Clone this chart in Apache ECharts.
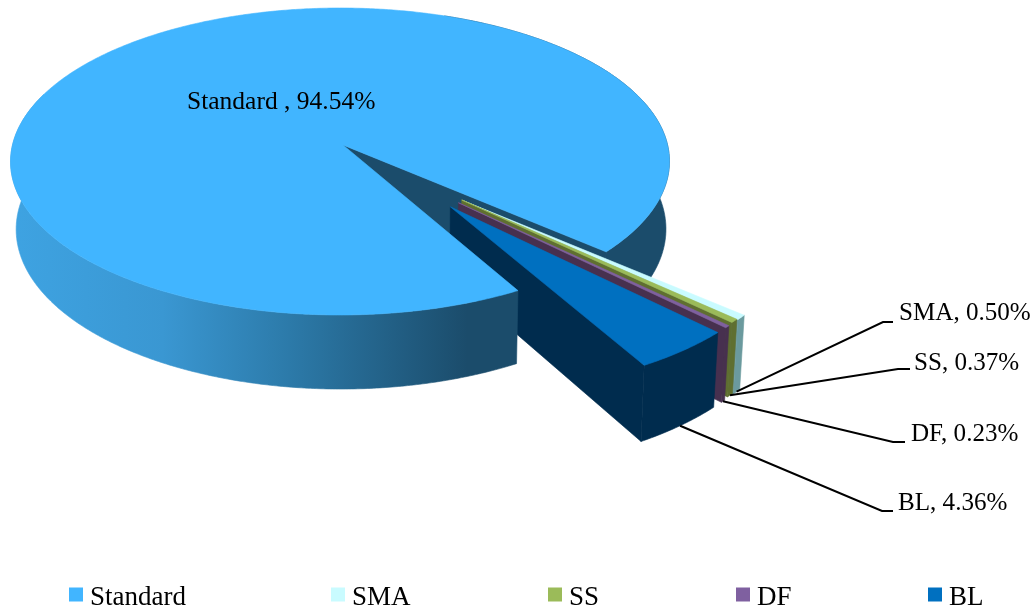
<!DOCTYPE html>
<html>
<head>
<meta charset="utf-8">
<style>html,body{margin:0;padding:0;background:#fff}#c{width:1035px;height:606px}</style>
<script src="https://cdn.jsdelivr.net/npm/echarts@6/dist/echarts.min.js"></script>
</head>
<body>
<div id="c"></div>
<script>
var categories = ['Standard', 'SMA', 'SS', 'DF', 'BL'];
var shares = [94.54, 0.50, 0.37, 0.23, 4.36];

var FONT = '"Liberation Serif","Times New Roman",serif';
var topColors = ['#41b5ff', '#c9fbff', '#9bbb59', '#7f60a0', '#0070c0'];
var wallColors = ['#1b4c6b', '#6b9a9e', '#5f6f30', '#47304f', '#002c4e'];
var explodeDirs = [0, 45, 45, 47.2, 51.2];
var explodeDist = [0, 0.498, 0.495, 0.5, 0.5025];
var startAngle = 60.9;
var topPlane = {x: 343, y: 145, a: 327.5, b: 151.7};
var botPlane = {x: 344, y: 212, a: 323, b: 158};
var KV = 0.1075, KU = -0.009;
var leaderLayout = [
  {text: [187, 102]},
  {elbow: [883, 322], end: [893, 322], text: [899, 313]},
  {elbow: [898, 369], end: [910, 369], text: [914, 363]},
  {elbow: [893, 442], end: [905, 442], text: [911, 434]},
  {elbow: [882, 511], end: [893, 511], text: [898, 503]}
];
var legendSlots = [69, 331, 548, 736, 928];

function rad(d) { return d * Math.PI / 180; }
function project(plane, u, v) {
  var w = 1 - KV * v - KU * u;
  return [plane.x + plane.a * u / w, plane.y + plane.b * v / w];
}
function sliceRange(i) {
  var a = startAngle;
  for (var k = 0; k < i; k++) a += shares[k] * 3.6;
  return [a, a + shares[i] * 3.6];
}
function offsetOf(i) {
  return [explodeDist[i] * Math.cos(rad(explodeDirs[i])), explodeDist[i] * Math.sin(rad(explodeDirs[i]))];
}
function rim(plane, off, from, to) {
  var n = Math.max(2, Math.ceil(Math.abs(to - from) / 0.5)), pts = [];
  for (var k = 0; k <= n; k++) {
    var t = rad(from + (to - from) * k / n);
    pts.push(project(plane, off[0] + Math.cos(t), off[1] + Math.sin(t)));
  }
  return pts;
}
function poly(points, fill, z2) {
  return {type: 'polygon', z2: z2, shape: {points: points}, style: {fill: fill, stroke: fill, lineWidth: 0.6}, silent: true};
}
function wall(off, from, to, fill, z2) {
  return poly(rim(topPlane, off, from, to).concat(rim(botPlane, off, from, to).reverse()), fill, z2);
}
function labelText(i, value) {
  return categories[i] + (i === 0 ? ' , ' : ', ') + value.toFixed(2) + '%';
}
function textEl(i, value) {
  var L = leaderLayout[i];
  return {type: 'text', z2: 300, silent: true,
    style: {text: labelText(i, value), x: L.text[0], y: L.text[1], fill: '#000',
      font: (i === 0 ? '25.5px ' : '25.1px ') + FONT, textAlign: 'left', textVerticalAlign: 'middle'}};
}

function renderSlice(params, api) {
  var i = params.seriesIndex, value = api.value(0), range = sliceRange(i), kids = [];
  var off = offsetOf(i);
  if (i === 0) {
    var end = range[1], start = range[0];
    var frontFill = new echarts.graphic.LinearGradient(0, 0, 1, 0, [
      {offset: 0, color: '#3ea3e2'}, {offset: 0.3, color: '#3a97d2'},
      {offset: 0.55, color: '#2c7aa9'}, {offset: 0.9, color: '#1b4c6b'}, {offset: 1, color: '#1b4c6b'}
    ]);
    var endPt = rim(topPlane, off, end, end)[0], endBot = rim(botPlane, off, end, end)[0];
    kids.push(poly([project(topPlane, 0, 0), endPt, endBot, project(botPlane, 0, 0)], wallColors[0], 1));
    kids.push(wall(off, 290, end, wallColors[0], 2));
    kids.push(wall(off, start, 200, frontFill, 100));
    kids.push(poly([project(topPlane, 0, 0)].concat(rim(topPlane, off, start, end)), topColors[0], 110));
  } else {
    var base = 10 + i * 10;
    var apexT = project(topPlane, off[0], off[1]), apexB = project(botPlane, off[0], off[1]);
    var a = range[1];
    var t = [Math.cos(rad(a)) + off[0], Math.sin(rad(a)) + off[1]];
    kids.push(poly([apexT, project(topPlane, t[0], t[1]), project(botPlane, t[0], t[1]), apexB], wallColors[i], base));
    kids.push(wall(off, range[0], range[1], wallColors[i], base + 1));
    kids.push(poly([apexT].concat(rim(topPlane, off, range[0], range[1])), topColors[i], base + 2));
    var mid = rad((range[0] + range[1]) / 2);
    var L = leaderLayout[i];
    var st = project(botPlane, Math.cos(mid) + off[0], Math.sin(mid) + off[1]);
    kids.push({type: 'polyline', z2: 200, silent: true,
      shape: {points: [st, L.elbow, L.end]}, style: {stroke: '#000', lineWidth: 2, fill: null}});
  }
  kids.push(textEl(i, value));
  return {type: 'group', children: kids};
}

var chart = echarts.init(document.getElementById('c'), null, {renderer: 'canvas'});
chart.setOption({
  animation: false,
  backgroundColor: '#fff',
  legend: categories.map(function (name, i) {
    return {
      left: legendSlots[i], top: 578, padding: 0, icon: 'rect', itemWidth: 14, itemHeight: 14,
      selectedMode: false, data: [name],
      formatter: '{t|{name}}',
      textStyle: {
        rich: {t: {fontFamily: FONT, fontSize: 27, color: '#000', lineHeight: 28, padding: [6, 0, 0, 2]}}
      }
    };
  }),
  series: categories.map(function (name, i) {
    return {
      type: 'custom', name: name, coordinateSystem: 'none', silent: true,
      itemStyle: {color: topColors[i]},
      data: [[shares[i]]],
      renderItem: renderSlice
    };
  })
});
</script>
</body>
</html>
